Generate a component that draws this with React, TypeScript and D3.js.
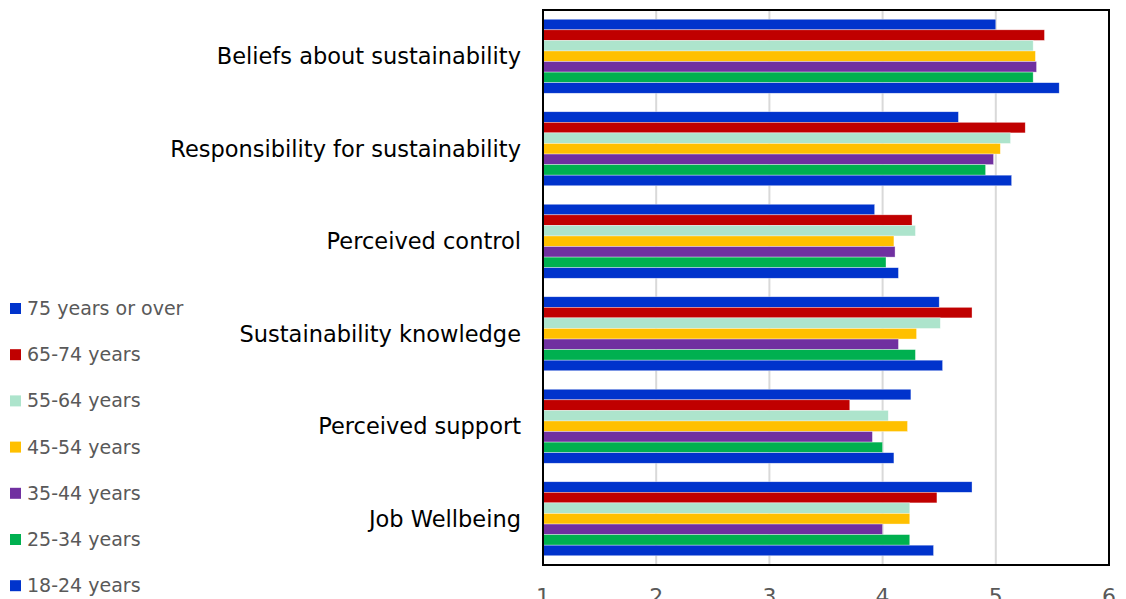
import React from "react";
import * as d3 from "d3";

const categories = [
  "Beliefs about sustainability",
  "Responsibility for sustainability",
  "Perceived control",
  "Sustainability knowledge",
  "Perceived support",
  "Job Wellbeing",
];

const seriesNames = [
  "75 years or over",
  "65-74 years",
  "55-64 years",
  "45-54 years",
  "35-44 years",
  "25-34 years",
  "18-24 years",
];

const seriesColors = ["#0033CC", "#C00000", "#ADE4CC", "#FFC000", "#7030A0", "#00B050", "#0033CC"];

// values per series, in category order
const s75plus = [5.0, 4.67, 3.93, 4.5, 4.25, 4.79];
const s65_74 = [5.43, 5.26, 4.26, 4.79, 3.71, 4.48];
const s55_64 = [5.33, 5.13, 4.29, 4.51, 4.05, 4.24];
const s45_54 = [5.35, 5.04, 4.1, 4.3, 4.22, 4.24];
const s35_44 = [5.36, 4.98, 4.11, 4.14, 3.91, 4.0];
const s25_34 = [5.33, 4.91, 4.03, 4.29, 4.0, 4.24];
const s18_24 = [5.56, 5.14, 4.14, 4.53, 4.1, 4.45];

const seriesValues = [s75plus, s65_74, s55_64, s45_54, s35_44, s25_34, s18_24];

const xTicks = [1, 2, 3, 4, 5, 6];

export default function App() {
  const W = 1126;
  const H = 599;
  const left = 543;
  const right = 1109;
  const top = 10;
  const bottom = 565;

  const x = d3.scaleLinear().domain([1, 6]).range([left, right]);
  const y = d3
    .scaleBand<string>()
    .domain(categories)
    .range([top, bottom])
    .paddingInner(0.2)
    .paddingOuter(0.1);
  const ys = d3
    .scaleBand<string>()
    .domain(seriesNames)
    .range([0, y.bandwidth()])
    .padding(0);

  const font = "'DejaVu Sans', 'Open Sans', sans-serif";

  return (
    <svg
      width={W}
      height={H}
      style={{ position: "absolute", left: 0, top: 0, background: "#fff" }}
      fontFamily={font}
    >
      {/* gridlines */}
      {xTicks.slice(1, -1).map((t) => (
        <line key={t} x1={x(t)} x2={x(t)} y1={top} y2={bottom} stroke="#D9D9D9" strokeWidth={2} />
      ))}
      {/* bars */}
      {categories.map((c, ci) => (
        <g key={c} transform={`translate(0,${y(c)})`}>
          {seriesNames.map((s, si) => (
            <rect
              key={s}
              x={x(1)}
              y={ys(s)}
              width={x(seriesValues[si][ci]) - x(1)}
              height={ys.bandwidth()}
              fill={seriesColors[si]}
              stroke="#ffffff"
              strokeOpacity={0.6}
              strokeWidth={0.6}
            />
          ))}
        </g>
      ))}
      {/* frame */}
      <rect x={left} y={top} width={right - left} height={bottom - top} fill="none" stroke="#000" strokeWidth={2} />
      {/* category labels */}
      {categories.map((c) => (
        <text
          key={c}
          x={521}
          y={(y(c) as number) + y.bandwidth() / 2}
          textAnchor="end"
          dominantBaseline="central"
          fontSize={22.5}
          fill="#000"
        >
          {c}
        </text>
      ))}
      {/* x tick labels */}
      {xTicks.map((t) => (
        <text key={t} x={x(t)} y={604} textAnchor="middle" fontSize={22} fill="#595959">
          {t}
        </text>
      ))}
      {/* legend */}
      {seriesNames.map((s, i) => (
        <g key={s} transform={`translate(10,${308 + i * 46.2})`}>
          <rect x={0} y={-5} width={11} height={11} fill={seriesColors[i]} />
          <text x={17} y={0} dominantBaseline="central" fontSize={19} fill="#595959">
            {s}
          </text>
        </g>
      ))}
    </svg>
  );
}
